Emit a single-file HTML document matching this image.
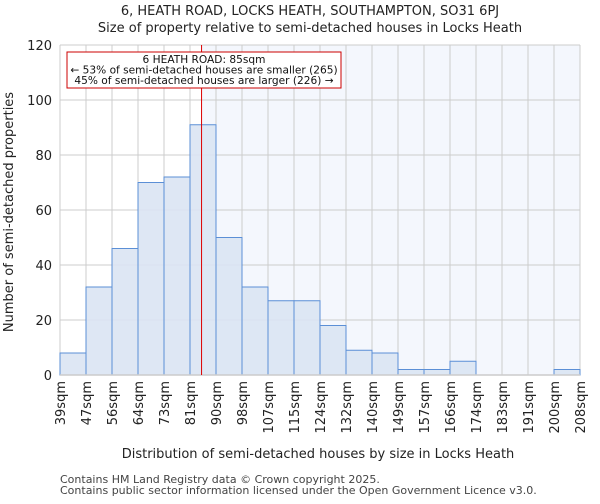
<!DOCTYPE html>
<html><head><meta charset="utf-8"><style>
body{margin:0;background:#fff;font-family:"DejaVu Sans","Liberation Sans",sans-serif;}
</style></head><body>
<svg id="chart" width="600" height="500" xmlns="http://www.w3.org/2000/svg" font-family="DejaVu Sans, Liberation Sans, sans-serif">
<text x="310" y="15" text-anchor="middle" font-size="13" fill="#222">6, HEATH ROAD, LOCKS HEATH, SOUTHAMPTON, SO31 6PJ</text>
<text x="310" y="32" text-anchor="middle" font-size="13" fill="#222">Size of property relative to semi-detached houses in Locks Heath</text>
<g id="plot"></g>
<text x="318" y="458" text-anchor="middle" font-size="13" fill="#222">Distribution of semi-detached houses by size in Locks Heath</text>
<text transform="translate(13,212) rotate(-90)" text-anchor="middle" font-size="13" fill="#222">Number of semi-detached properties</text>
<text x="60" y="483" font-size="11" fill="#444">Contains HM Land Registry data © Crown copyright 2025.</text>
<text x="60" y="494" font-size="11" fill="#444">Contains public sector information licensed under the Open Government Licence v3.0.</text>
</svg>
<script>
const categories=["39sqm","47sqm","56sqm","64sqm","73sqm","81sqm","90sqm","98sqm","107sqm","115sqm","124sqm","132sqm","140sqm","149sqm","157sqm","166sqm","174sqm","183sqm","191sqm","200sqm","208sqm"];
const counts=[8,32,46,70,72,91,50,32,27,27,18,9,8,2,2,5,0,0,0,2];
const yTicks=[0,20,40,60,80,100,120];
const markerValue=85;
const binStarts=[39,47,56,64,73,81,90,98,107,115,124,132,140,149,157,166,174,183,191,200,208];
const NS="http://www.w3.org/2000/svg";
const L=60,R=580,T=45,B=375,yMax=120;
const n=counts.length,bw=(R-L)/n;
const x=i=>L+i*bw;
const y=v=>B-(v/yMax)*(B-T);
function xVal(v){for(let i=0;i<n;i++){if(v>=binStarts[i]&&v<=binStarts[i+1])return x(i)+bw*(v-binStarts[i])/(binStarts[i+1]-binStarts[i]);}return R;}
const g=document.getElementById('plot');
function mk(tag,attrs){const e=document.createElementNS(NS,tag);for(const k in attrs)e.setAttribute(k,attrs[k]);g.appendChild(e);return e;}
const mx=xVal(markerValue);
let e=mk('rect',{x:mx,y:T,width:R-mx,height:B-T,fill:'#f4f7fd'});


yTicks.forEach(t=>{
 let l=mk('line',{x1:L,x2:R,y1:y(t),y2:y(t),stroke:'#cccccc','stroke-width':1});
 
 
 let tx=mk('text',{x:L-8,y:y(t)+5,'text-anchor':'end','font-size':13,fill:'#222'});
 tx.textContent=t;
 
 
});
categories.forEach((c,i)=>{
 let l=mk('line',{x1:x(i),x2:x(i),y1:T,y2:B,stroke:'#cccccc','stroke-width':1});
 
 
 let tx=mk('text',{transform:`translate(${x(i)+5},${B+6}) rotate(-90)`,'text-anchor':'end','font-size':13,fill:'#222'});
 tx.textContent=c;
 
 
});
counts.forEach((v,i)=>{
 if(v<=0)return;
 let r=mk('rect',{x:x(i),y:y(v),width:bw,height:B-y(v),fill:'#dae4f3','fill-opacity':0.9,stroke:'#5b8fd6','stroke-width':1});
 
 
});
e=mk('line',{x1:L,x2:R,y1:B,y2:B,stroke:'#cccccc','stroke-width':1.5});


e=mk('line',{x1:mx,x2:mx,y1:T,y2:B,stroke:'#dd0000','stroke-width':1});


e=mk('rect',{x:67,y:52,width:274,height:36,fill:'#fff',stroke:'#cc0000','stroke-width':1});


const lines=["6 HEATH ROAD: 85sqm","← 53% of semi-detached houses are smaller (265)","45% of semi-detached houses are larger (226) →"];
lines.forEach((s,i)=>{
 let t=mk('text',{x:204,y:63+i*10.5,'text-anchor':'middle','font-size':10.6,fill:'#111'});
 t.textContent=s;
 
 
});
</script>
</body></html>
